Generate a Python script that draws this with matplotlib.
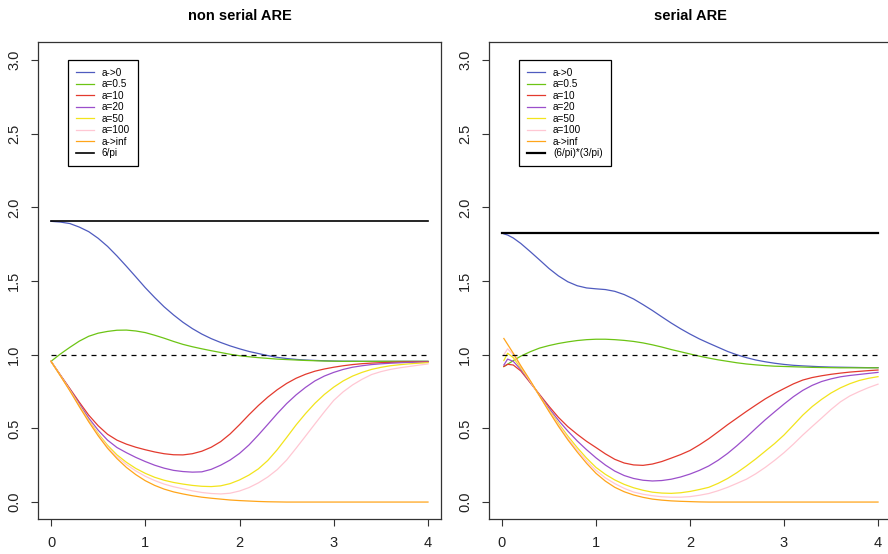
import matplotlib
matplotlib.use("Agg")
import matplotlib.pyplot as plt

plt.rcParams["font.family"] = ["Liberation Sans", "DejaVu Sans"]

# ---- data ----
# left panel (non serial ARE), x = 0.0, 0.1, ..., 4.0
x_left = [i / 10 for i in range(41)]
ns_a0 = [1.905, 1.900, 1.890, 1.866, 1.835, 1.790, 1.735, 1.670, 1.600, 1.528,
         1.455, 1.388, 1.325, 1.270, 1.220, 1.177, 1.140, 1.109, 1.083, 1.060,
         1.040, 1.022, 1.008, 0.994, 0.982, 0.974, 0.968, 0.964, 0.961, 0.959,
         0.957, 0.956, 0.956, 0.955, 0.955, 0.955, 0.955, 0.955, 0.955, 0.955,
         0.955]
ns_a05 = [0.955, 1.005, 1.050, 1.092, 1.125, 1.146, 1.158, 1.166, 1.167, 1.161,
          1.150, 1.132, 1.112, 1.090, 1.070, 1.054, 1.040, 1.027, 1.015, 1.003,
          0.993, 0.986, 0.980, 0.975, 0.970, 0.967, 0.964, 0.961, 0.959, 0.957,
          0.956, 0.955, 0.955, 0.955, 0.955, 0.955, 0.955, 0.955, 0.955, 0.955,
          0.955]
ns_a10 = [0.955, 0.862, 0.770, 0.678, 0.590, 0.518, 0.460, 0.420, 0.393, 0.372,
          0.355, 0.340, 0.328, 0.321, 0.320, 0.328, 0.345, 0.372, 0.410, 0.462,
          0.525, 0.592, 0.655, 0.712, 0.762, 0.805, 0.840, 0.867, 0.888, 0.903,
          0.915, 0.925, 0.933, 0.939, 0.943, 0.946, 0.948, 0.950, 0.951, 0.952,
          0.953]
ns_a20 = [0.955, 0.860, 0.765, 0.667, 0.570, 0.488, 0.420, 0.370, 0.335, 0.303,
          0.275, 0.250, 0.230, 0.215, 0.207, 0.203, 0.205, 0.222, 0.250, 0.285,
          0.330, 0.387, 0.455, 0.527, 0.600, 0.668, 0.727, 0.778, 0.822, 0.855,
          0.880, 0.900, 0.915, 0.925, 0.933, 0.938, 0.942, 0.945, 0.948, 0.949,
          0.950]
ns_a50 = [0.955, 0.858, 0.760, 0.657, 0.555, 0.465, 0.385, 0.320, 0.270, 0.228,
          0.195, 0.168, 0.148, 0.133, 0.122, 0.113, 0.107, 0.105, 0.110, 0.125,
          0.150, 0.183, 0.225, 0.282, 0.355, 0.438, 0.523, 0.600, 0.670, 0.730,
          0.780, 0.822, 0.855, 0.880, 0.900, 0.914, 0.925, 0.932, 0.938, 0.942,
          0.946]
ns_a100 = [0.955, 0.857, 0.758, 0.653, 0.550, 0.457, 0.375, 0.308, 0.255, 0.211,
           0.175, 0.146, 0.122, 0.104, 0.090, 0.076, 0.065, 0.058, 0.055, 0.060,
           0.075, 0.098, 0.130, 0.170, 0.220, 0.285, 0.365, 0.447, 0.530, 0.612,
           0.690, 0.748, 0.795, 0.833, 0.865, 0.885, 0.900, 0.911, 0.920, 0.929,
           0.937]
ns_ainf = [0.955, 0.856, 0.755, 0.648, 0.545, 0.450, 0.365, 0.295, 0.235, 0.186,
           0.145, 0.113, 0.088, 0.069, 0.055, 0.043, 0.033, 0.026, 0.020, 0.014,
           0.010, 0.007, 0.004, 0.002, 0.001, 0.0, 0.0, 0.0, 0.0, 0.0,
           0.0, 0.0, 0.0, 0.0, 0.0, 0.0, 0.0, 0.0, 0.0, 0.0,
           0.0]

# right panel (serial ARE), x = 0.02, 0.06, 0.12, then 0.2, 0.3, ..., 4.0
x_right = [0.02, 0.06, 0.12] + [i / 10 for i in range(2, 41)]
s_a0 = [1.820, 1.812, 1.792,
        1.755, 1.700, 1.643, 1.585, 1.535, 1.495, 1.468, 1.453,
        1.447, 1.442, 1.430, 1.408, 1.378, 1.340, 1.300, 1.257, 1.215, 1.176,
        1.140, 1.107, 1.078, 1.050, 1.022, 0.999, 0.980, 0.964, 0.952, 0.942,
        0.934, 0.928, 0.924, 0.921, 0.918, 0.916, 0.915, 0.914, 0.913, 0.912,
        0.912]
s_a05 = [0.920, 0.935, 0.960,
         0.990, 1.020, 1.045, 1.062, 1.076, 1.087, 1.096, 1.102,
         1.105, 1.105, 1.102, 1.097, 1.090, 1.080, 1.067, 1.052, 1.035, 1.020,
         1.005, 0.990, 0.977, 0.965, 0.955, 0.945, 0.937, 0.931, 0.926, 0.922,
         0.920, 0.918, 0.916, 0.914, 0.913, 0.912, 0.911, 0.911, 0.911, 0.911,
         0.911]
s_a10 = [0.920, 0.935, 0.930,
         0.890, 0.810, 0.730, 0.650, 0.575, 0.512, 0.460, 0.412,
         0.370, 0.327, 0.290, 0.265, 0.252, 0.249, 0.258, 0.275, 0.298, 0.322,
         0.350, 0.388, 0.430, 0.477, 0.525, 0.570, 0.615, 0.658, 0.700, 0.737,
         0.770, 0.802, 0.828, 0.845, 0.857, 0.867, 0.875, 0.882, 0.887, 0.892,
         0.896]
s_a20 = [0.930, 0.970, 0.955,
         0.900, 0.815, 0.725, 0.637, 0.555, 0.482, 0.415, 0.355,
         0.300, 0.251, 0.210, 0.180, 0.160, 0.148, 0.143, 0.146, 0.155, 0.170,
         0.190, 0.215, 0.245, 0.284, 0.330, 0.383, 0.440, 0.500, 0.558, 0.612,
         0.665, 0.715, 0.758, 0.792, 0.818, 0.836, 0.850, 0.859, 0.866, 0.873,
         0.880]
s_a50 = [0.960, 1.010, 0.980,
         0.910, 0.820, 0.720, 0.625, 0.535, 0.448, 0.370, 0.298,
         0.235, 0.188, 0.150, 0.120, 0.097, 0.080, 0.067, 0.061, 0.059, 0.063,
         0.072, 0.085, 0.100, 0.127, 0.160, 0.200, 0.245, 0.293, 0.345, 0.397,
         0.455, 0.522, 0.590, 0.648, 0.697, 0.740, 0.775, 0.803, 0.825, 0.840,
         0.851]
s_a100 = [1.000, 1.040, 1.000,
          0.920, 0.820, 0.720, 0.620, 0.525, 0.435, 0.355, 0.280,
          0.215, 0.164, 0.125, 0.093, 0.068, 0.053, 0.043, 0.036, 0.033, 0.033,
          0.037, 0.046, 0.058, 0.077, 0.100, 0.127, 0.155, 0.192, 0.235, 0.283,
          0.335, 0.393, 0.455, 0.513, 0.570, 0.628, 0.680, 0.720, 0.750, 0.777,
          0.800]
s_ainf = [1.110, 1.070, 1.010,
          0.925, 0.825, 0.720, 0.615, 0.515, 0.423, 0.340, 0.263,
          0.195, 0.142, 0.100, 0.070, 0.048, 0.032, 0.020, 0.013, 0.008, 0.005,
          0.003, 0.001, 0.0, 0.0, 0.0, 0.0, 0.0, 0.0, 0.0, 0.0,
          0.0, 0.0, 0.0, 0.0, 0.0, 0.0, 0.0, 0.0, 0.0, 0.0,
          0.0]

labels = ["a->0", "a=0.5", "a=10", "a=20", "a=50", "a=100", "a->inf"]
colors = ["#4F5BBF", "#6CC414", "#E33A2E", "#9B4FCB", "#F2E41C", "#FFC7D3", "#FFA51A"]
ref_left = 6 / 3.141592653589793
ref_right = (6 / 3.141592653589793) * (3 / 3.141592653589793)

fig = plt.figure(figsize=(8.88, 5.54), dpi=100)
ax1 = fig.add_axes([38 / 888, 35 / 554, 403 / 888, 477 / 554])
ax2 = fig.add_axes([489 / 888, 35 / 554, 402 / 888, 477 / 554])


def draw(ax, x, series, ref, ref_label, ref_lw, title):
    for y, lab, col in zip(series, labels, colors):
        ax.plot(x, y, color=col, lw=0.9, label=lab)
    ax.plot([0, 4], [ref, ref], color="black", lw=ref_lw, label=ref_label)
    ax.plot([0, 4], [1, 1], color="black", lw=0.9, linestyle=(0, (4, 4)))
    ax.set_xlim(-0.138, 4.138)
    ax.set_ylim(-0.115, 3.122)
    ax.set_xticks([0, 1, 2, 3, 4])
    ax.set_xticklabels(["0", "1", "2", "3", "4"])
    ax.set_yticks([0, 0.5, 1, 1.5, 2, 2.5, 3])
    ax.set_yticklabels(["0.0", "0.5", "1.0", "1.5", "2.0", "2.5", "3.0"],
                       rotation=90, va="center")
    ax.tick_params(length=5, width=0.8, labelsize=10.5, color="#333333",
                   labelcolor="#222222", pad=7)
    for sp in ax.spines.values():
        sp.set_linewidth(0.9)
        sp.set_color("#333333")
    ax.set_title(title, fontsize=10.5, fontweight="bold", pad=16)
    leg = ax.legend(loc="upper left", bbox_to_anchor=(0.18, 3.0),
                    bbox_transform=ax.transData, fontsize=7.2, frameon=True,
                    fancybox=False, edgecolor="black", framealpha=1,
                    handlelength=1.8, handletextpad=0.8, labelspacing=0.15,
                    borderpad=0.8, borderaxespad=0)
    leg.get_frame().set_linewidth(0.9)


draw(ax1, x_left, [ns_a0, ns_a05, ns_a10, ns_a20, ns_a50, ns_a100, ns_ainf],
     ref_left, "6/pi", 1.2, "non serial ARE")
draw(ax2, x_right, [s_a0, s_a05, s_a10, s_a20, s_a50, s_a100, s_ainf],
     ref_right, "(6/pi)*(3/pi)", 1.6, "serial ARE")

fig.savefig("out.png", dpi=100)
